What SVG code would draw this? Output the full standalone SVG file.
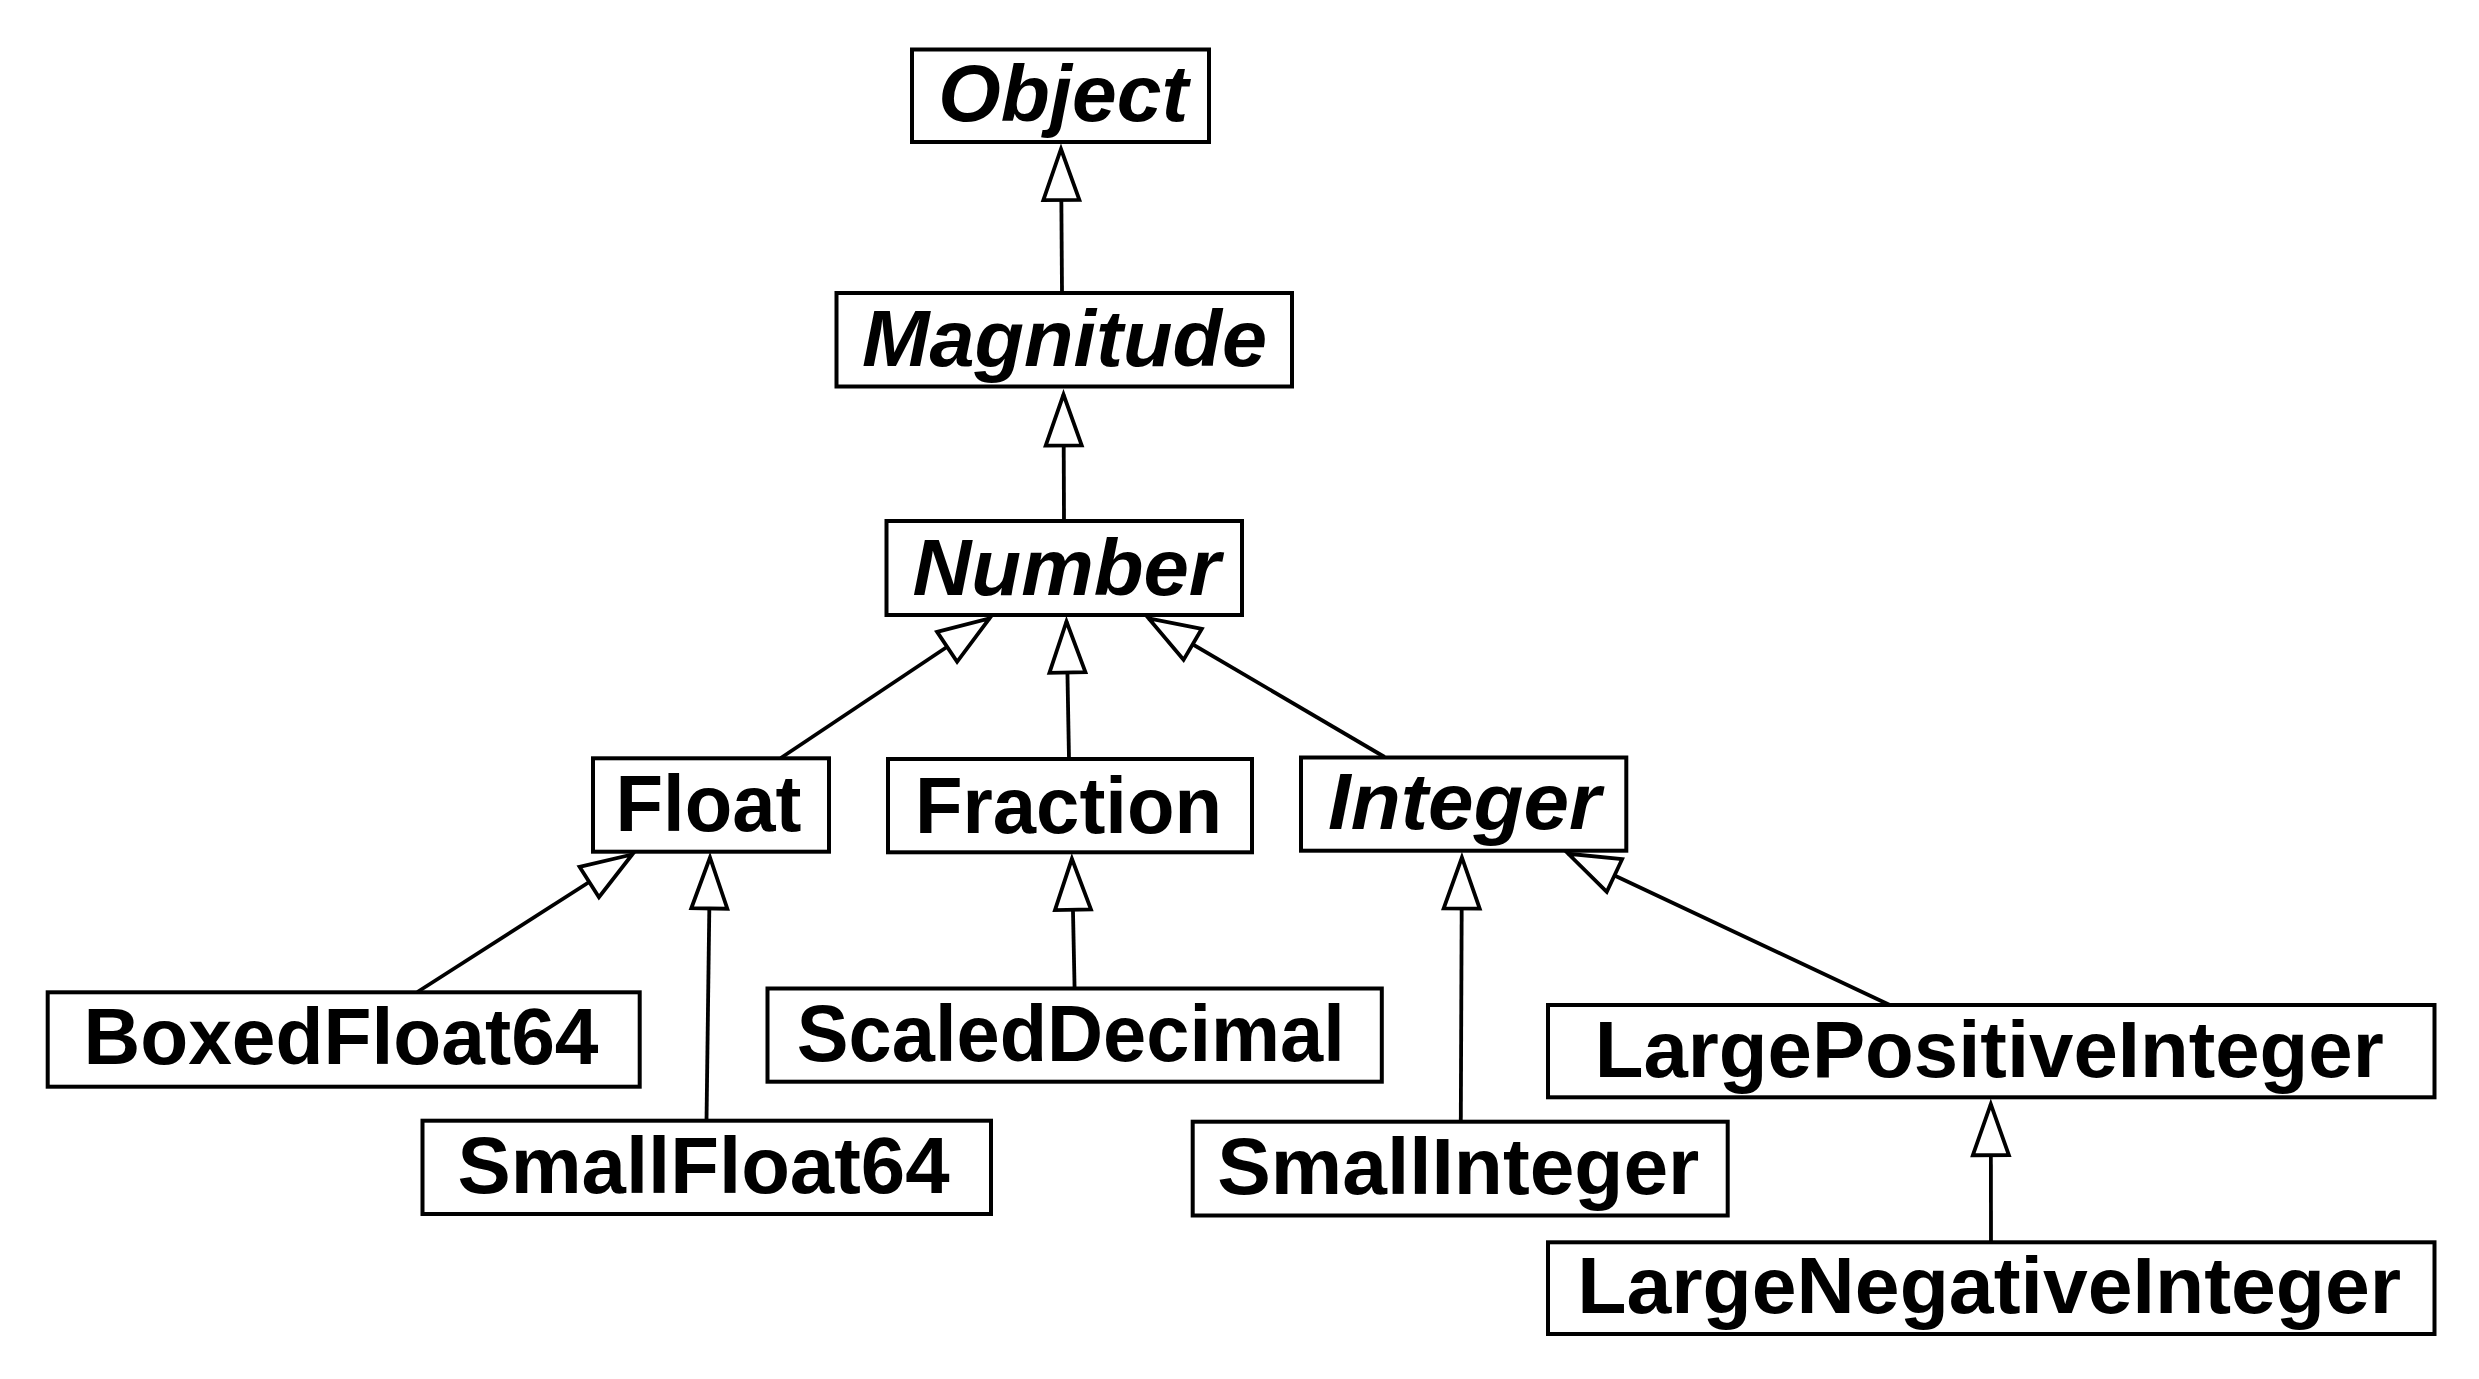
<svg xmlns="http://www.w3.org/2000/svg" width="2479" height="1379" viewBox="0 0 2479 1379">
  <style>
    .box { fill: #ffffff; stroke: #000000; stroke-width: 4; }
    .lbl { font-family: "Liberation Sans", "DejaVu Sans", sans-serif; font-weight: bold; font-size: 79px; fill: #000000; text-anchor: middle; }
    .abs { font-style: italic; }
    .edge { fill: none; stroke: #000000; stroke-width: 3.8; marker-end: url(#inherit); }
  </style>
  <defs>
    <!-- hollow generalization arrowhead -->
    <marker id="inherit" markerUnits="userSpaceOnUse" viewBox="-4 -23 60 46" markerWidth="60" markerHeight="46" refX="51" refY="0" orient="auto">
      <path d="M0,-18 L51,0 L0,18 Z" fill="#ffffff" stroke="#000000" stroke-width="3.8" stroke-linejoin="miter"/>
    </marker>
  </defs>

  <rect width="2479" height="1379" fill="#ffffff"/>

  <g id="connectors">
    <line class="edge" x1="1062" y1="293" x2="1061" y2="149"/>
    <line class="edge" x1="1064" y1="521" x2="1063.5" y2="394.5"/>
    <line class="edge" x1="780.8" y1="758" x2="989.5" y2="618.5"/>
    <line class="edge" x1="1069" y1="759" x2="1066.5" y2="621.5"/>
    <line class="edge" x1="1384.6" y1="757" x2="1148.7" y2="618.5"/>
    <line class="edge" x1="417.4" y1="992" x2="632.2" y2="854.5"/>
    <line class="edge" x1="706.5" y1="1120.7" x2="710" y2="857.5"/>
    <line class="edge" x1="1074.6" y1="988.5" x2="1071.9" y2="858.8"/>
    <line class="edge" x1="1460.8" y1="1121.7" x2="1461.9" y2="857.5"/>
    <line class="edge" x1="1889.8" y1="1005" x2="1568.3" y2="853.8"/>
    <line class="edge" x1="1991" y1="1242" x2="1990.8" y2="1104.2"/>
  </g>

  <g id="node-object">
    <rect class="box" x="912" y="49.5" width="297" height="92.5"/>
    <text class="lbl abs" x="1063.2" y="120.7" textLength="250" lengthAdjust="spacingAndGlyphs">Object</text>
  </g>
  <g id="node-magnitude">
    <rect class="box" x="836.5" y="293" width="455.5" height="93.5"/>
    <text class="lbl abs" x="1064.5" y="366" textLength="405" lengthAdjust="spacingAndGlyphs">Magnitude</text>
  </g>
  <g id="node-number">
    <rect class="box" x="886.5" y="521" width="355.5" height="94"/>
    <text class="lbl abs" x="1066.5" y="595" textLength="308" lengthAdjust="spacingAndGlyphs">Number</text>
  </g>
  <g id="node-float">
    <rect class="box" x="593" y="758.3" width="236" height="93.4"/>
    <text class="lbl" x="708.5" y="830.5" textLength="186" lengthAdjust="spacingAndGlyphs">Float</text>
  </g>
  <g id="node-fraction">
    <rect class="box" x="888" y="759" width="364" height="93.3"/>
    <text class="lbl" x="1068.5" y="832.5" textLength="307" lengthAdjust="spacingAndGlyphs">Fraction</text>
  </g>
  <g id="node-integer">
    <rect class="box" x="1301" y="757.5" width="325.3" height="93.2"/>
    <text class="lbl abs" x="1464.4" y="829" textLength="273" lengthAdjust="spacingAndGlyphs">Integer</text>
  </g>
  <g id="node-boxedfloat64">
    <rect class="box" x="47.7" y="992.3" width="592" height="94.4"/>
    <text class="lbl" x="341" y="1064" textLength="515" lengthAdjust="spacingAndGlyphs">BoxedFloat64</text>
  </g>
  <g id="node-scaleddecimal">
    <rect class="box" x="767.5" y="988.5" width="614.3" height="93.2"/>
    <text class="lbl" x="1070.8" y="1061" textLength="548" lengthAdjust="spacingAndGlyphs">ScaledDecimal</text>
  </g>
  <g id="node-smallfloat64">
    <rect class="box" x="422.5" y="1120.7" width="568.5" height="93.3"/>
    <text class="lbl" x="703.5" y="1193" textLength="492" lengthAdjust="spacingAndGlyphs">SmallFloat64</text>
  </g>
  <g id="node-smallinteger">
    <rect class="box" x="1192.7" y="1121.7" width="535" height="93.8"/>
    <text class="lbl" x="1458.3" y="1194" textLength="482" lengthAdjust="spacingAndGlyphs">SmallInteger</text>
  </g>
  <g id="node-largepositiveinteger">
    <rect class="box" x="1548" y="1005" width="886.5" height="92.3"/>
    <text class="lbl" x="1989.2" y="1077.3" textLength="789" lengthAdjust="spacingAndGlyphs">LargePositiveInteger</text>
  </g>
  <g id="node-largenegativeinteger">
    <rect class="box" x="1548" y="1242.3" width="886.5" height="91.7"/>
    <text class="lbl" x="1989.2" y="1313.3" textLength="824" lengthAdjust="spacingAndGlyphs">LargeNegativeInteger</text>
  </g>
</svg>
